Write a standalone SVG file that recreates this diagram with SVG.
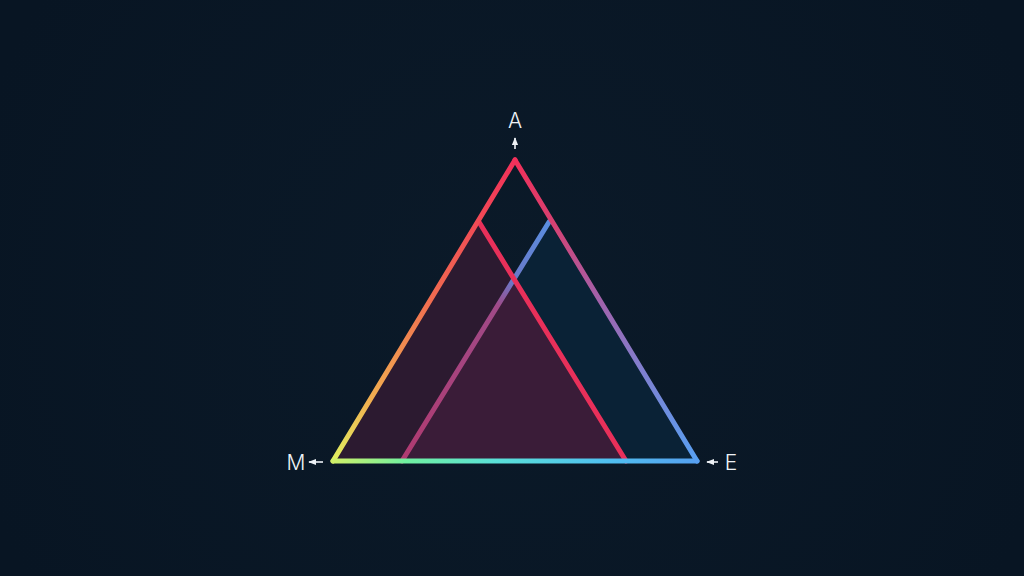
<svg xmlns="http://www.w3.org/2000/svg" width="1024" height="576" viewBox="0 0 1024 576">
  <defs>
    <radialGradient id="bg" cx="512" cy="300" r="560" gradientUnits="userSpaceOnUse">
      <stop offset="0" stop-color="#0b1a29"/>
      <stop offset="1" stop-color="#081523"/>
    </radialGradient>
    <linearGradient id="gLeft" x1="515" y1="160" x2="333" y2="461" gradientUnits="userSpaceOnUse">
      <stop offset="0" stop-color="#f2305a"/>
      <stop offset="0.45" stop-color="#f06a50"/>
      <stop offset="0.8" stop-color="#f2b050"/>
      <stop offset="1" stop-color="#e0f060"/>
    </linearGradient>
    <linearGradient id="gBottom" x1="333" y1="461" x2="697" y2="461" gradientUnits="userSpaceOnUse">
      <stop offset="0" stop-color="#d0f068"/>
      <stop offset="0.2" stop-color="#70f0a0"/>
      <stop offset="0.45" stop-color="#5ae0d8"/>
      <stop offset="0.75" stop-color="#50c0f0"/>
      <stop offset="1" stop-color="#55a0f0"/>
    </linearGradient>
    <linearGradient id="gRight" x1="697" y1="461" x2="515" y2="160" gradientUnits="userSpaceOnUse">
      <stop offset="0" stop-color="#58a0f2"/>
      <stop offset="0.3" stop-color="#8080d0"/>
      <stop offset="0.55" stop-color="#a460a8"/>
      <stop offset="0.8" stop-color="#d84070"/>
      <stop offset="1" stop-color="#f2305a"/>
    </linearGradient>
    <linearGradient id="gBlueLeft" x1="549" y1="222" x2="402" y2="461" gradientUnits="userSpaceOnUse">
      <stop offset="0" stop-color="#5a8ee0"/>
      <stop offset="0.25" stop-color="#6a78c8"/>
      <stop offset="0.35" stop-color="#a04a88"/>
      <stop offset="1" stop-color="#b03a70"/>
    </linearGradient>
    <marker id="arr" viewBox="0 0 10 10" refX="9" refY="5" markerWidth="5" markerHeight="5" orient="auto">
      <path d="M0,1 L10,5 L0,9 Z" fill="#eef2f6"/>
    </marker>
    <style>
      .lbl { font-family: "Inter", "Liberation Sans", sans-serif; font-size: 21px; font-weight: 300; fill: #eef2f6; text-anchor: middle; }
      .edge { fill: none; stroke-width: 5; stroke-linecap: round; }
      .arrow { stroke: #eef2f6; stroke-width: 1.6; fill: none; marker-end: url(#arr); }
    </style>
  </defs>

  <rect width="1024" height="576" fill="url(#bg)"/>

  <g id="fills">
    <polygon points="479,222 333,461 626,461" fill="#2c1a30"/>
    <polygon points="549,222 402,461 697,461" fill="#0a2236"/>
    <polygon points="514,279 402,461 626,461" fill="#3a1c38"/>
  </g>

  <g id="inner-edges">
    <line class="edge" x1="549" y1="222" x2="402" y2="461" stroke="url(#gBlueLeft)" stroke-width="4.5"/>
    <line class="edge" x1="479" y1="222" x2="626" y2="461" stroke="#e8305a" stroke-width="4.5"/>
  </g>

  <g id="outer-triangle">
    <line class="edge" x1="515" y1="160" x2="333" y2="461" stroke="url(#gLeft)"/>
    <line class="edge" x1="333" y1="461" x2="697" y2="461" stroke="url(#gBottom)"/>
    <line class="edge" x1="697" y1="461" x2="515" y2="160" stroke="url(#gRight)"/>
  </g>

  <g id="connectors">
    <line class="arrow" x1="515" y1="149" x2="515" y2="138"/>
    <line class="arrow" x1="323" y1="462" x2="309" y2="462"/>
    <line class="arrow" x1="718" y1="462" x2="707" y2="462"/>
  </g>

  <g id="node-A"><text class="lbl" x="515" y="128">A</text></g>
  <g id="node-M"><text class="lbl" x="296" y="470">M</text></g>
  <g id="node-E"><text class="lbl" x="731" y="470">E</text></g>
</svg>
